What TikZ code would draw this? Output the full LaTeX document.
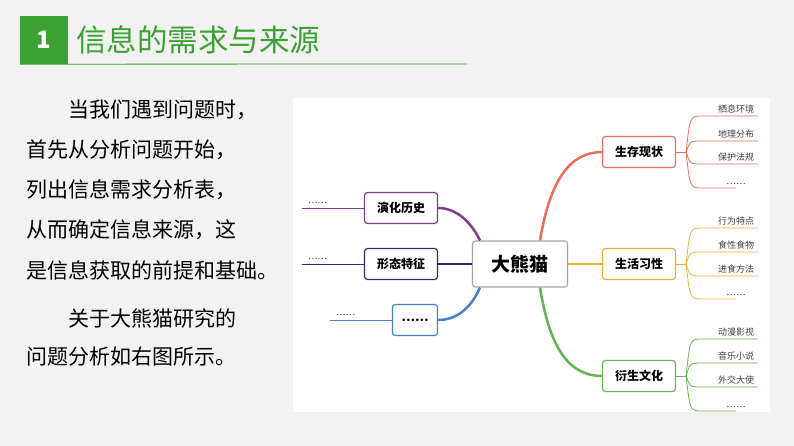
\documentclass[tikz,border=0pt]{standalone}
\usepackage{fontspec}
\setmainfont{Noto Sans CJK SC}
\usetikzlibrary{positioning}
\definecolor{hdgreen}{RGB}{60,160,50}
\definecolor{cred}{RGB}{232,110,90}
\definecolor{cyel}{RGB}{238,178,50}
\definecolor{cgrn}{RGB}{100,180,80}
\definecolor{cpur}{RGB}{130,60,130}
\definecolor{cnav}{RGB}{50,40,120}
\definecolor{cblu}{RGB}{70,130,200}
\begin{document}
\begin{tikzpicture}[x=1pt,y=-1pt,
	topic/.style={rectangle, draw=#1, very thick, rounded corners=3, fill=white, minimum height=31, minimum width=73, font=\bfseries\fontsize{12}{12}\selectfont},
	centre/.style={rectangle, draw=gray!70, very thick, rounded corners=3, fill=white, minimum height=46, minimum width=95, font=\bfseries\fontsize{19}{19}\selectfont},
	leaf/.style={font=\fontsize{9}{9}\selectfont, text=black!75, inner sep=1},
	body/.style={font=\fontsize{21}{21}\selectfont, anchor=west, inner sep=0},
	]
	\useasboundingbox[fill={rgb,255:red,242;green,242;blue,242}] (0,0) rectangle (794,446);
	%Header
	\node[fill=hdgreen, minimum width=48, minimum height=48, text=white, font=\bfseries\fontsize{24}{24}\selectfont] (num) at (44,40) {1};
	\node[anchor=west, text=hdgreen, font=\fontsize{30.5}{30.5}\selectfont, inner sep=0] (title) at (76,40) {信息的需求与来源};
	\draw[hdgreen, thick] (num.south west) -- (467,64);
	%Text
	\node[body] (t1) at (68,110) {当我们遇到问题时，};
	\node[body] (t2) at (26,150) {首先从分析问题开始，};
	\node[body] (t3) at (26,190) {列出信息需求分析表，};
	\node[body] (t4) at (26,230) {从而确定信息来源，这};
	\node[body] (t5) at (26,270) {是信息获取的前提和基础。};
	\node[body] (t6) at (68,318) {关于大熊猫研究的};
	\node[body] (t7) at (26,357) {问题分析如右图所示。};
	%Panel
	\fill[white] (293,98) rectangle (770,412);
	%Nodes
	\node[centre]        (panda) at (520,264) {大熊猫};
	\node[topic=cred]    (live)  at (639,152) {生存现状};
	\node[topic=cyel]    (habit) at (639,264) {生活习性};
	\node[topic=cgrn]    (cult)  at (639,376) {衍生文化};
	\node[topic=cpur]    (hist)  at (401,208) {演化历史};
	\node[topic=cnav]    (form)  at (401,264) {形态特征};
	\node[topic=cblu, minimum width=45] (more) at (415,320) {……};
	%Lines
	\draw[cred, line width=2.5] (panda.north) ++(20,0) coordinate (pn) .. controls (550,180) and (570,152) .. (live.west);
	\draw[cyel, line width=2.5] (panda.east) -- (habit.west);
	\draw[cgrn, line width=2.5] (panda.south) ++(20,0) coordinate (ps) .. controls (550,350) and (570,376) .. (cult.west);
	\draw[cpur, line width=2.5] (panda.north) ++(-40,0) coordinate (ph) .. controls (470,220) and (455,208) .. (hist.east);
	\draw[cnav, line width=2.5] (panda.west) -- (form.east);
	\draw[cblu, line width=2.5] (panda.south) ++(-40,0) coordinate (pm) .. controls (470,310) and (455,320) .. (more.east);
	\foreach \n/\c/\y in {hist/cpur/208, form/cnav/264, more/cblu/320}{
		\coordinate (\n-end) at ([xshift=-62]\n.west);
		\draw[\c, thick] (\n.west) -- (\n-end);
		\node[leaf, anchor=south west] at ([xshift=5,yshift=3]\n-end) {……};
	}
	\foreach \n/\c/\ya/\yb/\yc/\yd/\la/\lb/\lc in {
		live/cred/116/141/164/188/栖息环境/地理分布/保护法规,
		habit/cyel/228/252/276/299/行为特点/食性食物/进食方法,
		cult/cgrn/339/363/387/411/动漫影视/音乐小说/外交大使}{
		\coordinate (\n-fork) at ([xshift=10]\n.east);
		\draw[\c, thick] (\n.east) -- (\n-fork);
		\foreach \ly/\lt/\w in {\ya/\la/758, \yb/\lb/758, \yc/\lc/758, \yd/……/736}{
			\coordinate (\n-\ly) at (\w,\ly);
			\draw[\c, thick] (\n-fork) .. controls (690,\ly) and (690,\ly) .. (702,\ly) -- (\n-\ly);
			\node[leaf, anchor=south] at (736,\ly-2) {\lt};
		}
	}
\end{tikzpicture}
\end{document}
